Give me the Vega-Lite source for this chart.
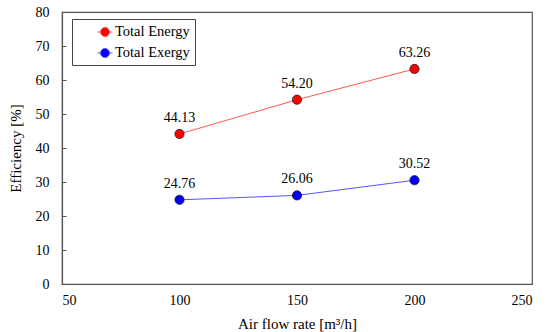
{
  "$schema": "https://vega.github.io/schema/vega-lite/v6.json",
  "width": 470,
  "height": 272,
  "autosize": {"type": "none"},
  "padding": {"left": 62, "top": 12, "right": 18, "bottom": 48},
  "background": "white",
  "config": {
    "font": "Liberation Serif",
    "view": {"stroke": "#555555", "strokeWidth": 1.2},
    "axis": {
      "grid": false,
      "domainColor": "#555555",
      "domainWidth": 1.2,
      "tickColor": "#555555",
      "labelFont": "Liberation Serif",
      "labelFontSize": 14,
      "labelColor": "#000000",
      "titleFont": "Liberation Serif",
      "titleFontSize": 15,
      "titleFontWeight": "normal",
      "titleColor": "#000000"
    }
  },
  "data": {
    "values": [
      {"flow": 100, "eff": 44.13, "series": "Total Energy", "label": "44.13"},
      {"flow": 150, "eff": 54.20, "series": "Total Energy", "label": "54.20"},
      {"flow": 200, "eff": 63.26, "series": "Total Energy", "label": "63.26"},
      {"flow": 100, "eff": 24.76, "series": "Total Exergy", "label": "24.76"},
      {"flow": 150, "eff": 26.06, "series": "Total Exergy", "label": "26.06"},
      {"flow": 200, "eff": 30.52, "series": "Total Exergy", "label": "30.52"}
    ]
  },
  "encoding": {
    "x": {
      "field": "flow", "type": "quantitative",
      "scale": {"domain": [50, 250], "nice": false},
      "axis": {"values": [50, 100, 150, 200, 250], "title": "Air flow rate [m³/h]", "ticks": false, "labelPadding": 9, "titlePadding": 9}
    },
    "y": {
      "field": "eff", "type": "quantitative",
      "scale": {"domain": [0, 80], "nice": false},
      "axis": {"values": [0, 10, 20, 30, 40, 50, 60, 70, 80], "title": "Efficiency [%]", "tickSize": -4, "labelPadding": 17, "titlePadding": 12}
    }
  },
  "layer": [
    {
      "mark": {"type": "line", "strokeWidth": 1},
      "encoding": {
        "color": {
          "field": "series", "type": "nominal",
          "scale": {"domain": ["Total Energy", "Total Exergy"], "range": ["#ff5555", "#5555ff"]},
          "legend": {
            "title": null,
            "orient": "none",
            "legendX": 10,
            "legendY": 7,
            "strokeColor": "#444444",
            "padding": 5,
            "rowPadding": 6,
            "symbolType": "M-1,0L-0.6,0M0.6,0L1,0M0.6,0A0.6,0.6 0 1,1 -0.6,0A0.6,0.6 0 1,1 0.6,0Z",
            "symbolSize": 225,
            "symbolStrokeWidth": 1,
            "labelFont": "Liberation Serif",
            "labelFontSize": 14.5,
            "labelColor": "#000000",
            "labelOffset": 2,
            "labelLimit": 300,
            "symbolOffset": 20,
            "encode": {
              "symbols": {
                "update": {
                  "fill": {"scale": "fill", "field": "value"},
                  "fillOpacity": {"value": 1}
                }
              }
            }
          }
        }
      }
    },
    {
      "mark": {"type": "point", "filled": true, "size": 85, "stroke": "#222222", "strokeWidth": 0.8, "opacity": 1},
      "encoding": {
        "fill": {
          "field": "series", "type": "nominal",
          "scale": {"domain": ["Total Energy", "Total Exergy"], "range": ["#ff0000", "#0000ff"]},
          "legend": null
        }
      }
    },
    {
      "mark": {"type": "text", "dy": -16, "fontSize": 14, "font": "Liberation Serif", "color": "#000000"},
      "encoding": {"text": {"field": "label"}}
    }
  ]
}
